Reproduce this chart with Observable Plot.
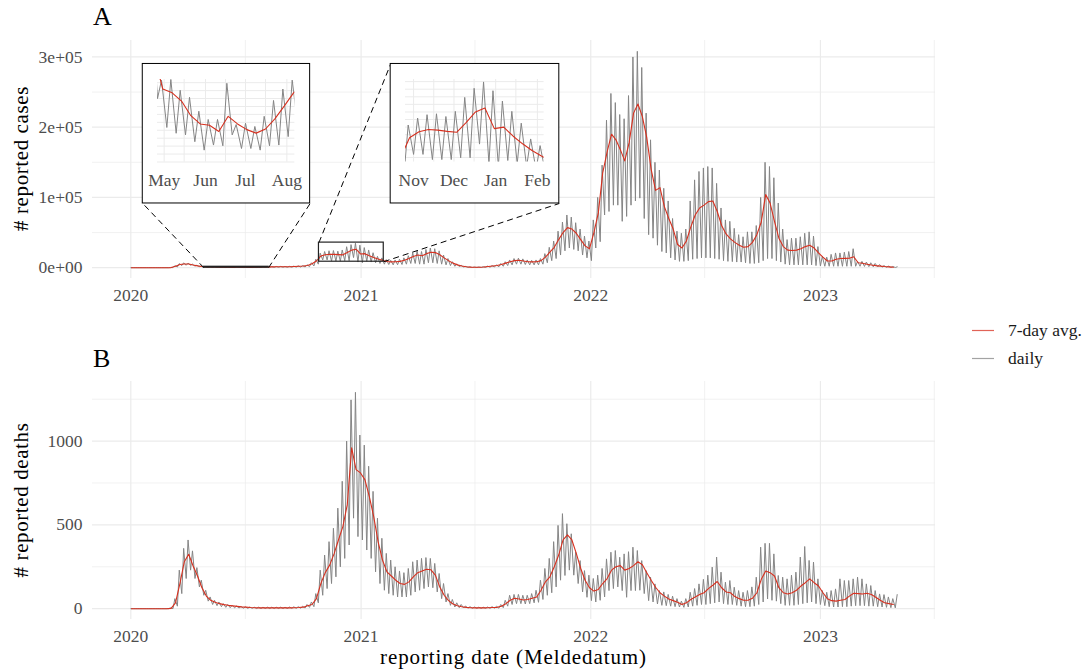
<!DOCTYPE html>
<html><head><meta charset="utf-8">
<script src="https://cdn.jsdelivr.net/npm/d3@7"></script>
<script src="https://cdn.jsdelivr.net/npm/@observablehq/plot@0.6"></script>
<style>
body{margin:0;background:#fff;}
#root{position:relative;width:1086px;height:672px;overflow:hidden;background:#fff;font-family:"Liberation Serif",serif;}
#root svg text{font-family:"Liberation Serif",serif;}
</style></head><body><div id="root"></div>
<script>
// ---------------- DATA (weekly readings from the picture) ----------------
// week i starts Monday 2019-12-30 + 7*i ; daily peak shown mid-week, trough on Sunday
const weekStart = "2019-12-30";
const lastDate = "2023-05-03";

// reported cases, thousands: 7-day average, weekly daily-peak, weekly daily-trough
const casesAvgK = [
0,0,0,0,0,0,0,0,0.01,0.15,
2.0,4.5,5.3,5.2,3.8,2.6,1.7,1.15,1.09,0.96,
0.73,0.60,0.58,0.48,0.72,0.60,0.51,0.455,0.52,0.68,
0.88,1.09,1.2,1.3,1.4,1.3,1.4,1.7,2.0,2.3,
3.2,5.5,9.5,16.5,18.5,19.2,19.0,18.6,18.3,21.5,
25,26.3,19.5,20,17,14.5,12.3,10.5,8.8,8.2,
8.5,9.0,10.5,13,16,18,17,20,22,21.5,
18.5,14,10,6.5,4,2.5,1.3,0.8,0.6,0.7,
1.0,1.6,2.3,3.0,4.5,6.5,8.5,10,10.5,9.5,
8.5,8.2,8.5,10,15,22,29,40,50,57,
55,49,40,31,27,50,78,135,165,190,
182,168,152,178,220,233,215,185,140,110,
114,87,70,55,33,28,38,58,75,85,
89,94,95,80,60,48,41,36,32,29,
30,36,47,65,104,92,66,42,30,25,
24.5,25,27,30,32,28,21,15,9.5,9.5,
12,13,13.3,13.5,15.5,7,6.2,5,3.8,2.9,
2.2,1.6,1.2,0.7,0.5];
const casesHiK = [
0,0,0,0,0,0,0,0,0.02,0.3,
3.0,5.8,6.8,6.5,5.0,3.5,2.3,1.29,1.30,1.13,
1.02,0.80,0.67,0.67,1.24,0.59,0.61,0.56,0.72,0.97,
1.15,1.29,1.6,1.7,1.8,1.7,1.9,2.2,2.6,3.0,
4.2,7.0,12,20.7,23,24.1,24.4,23.5,25.2,29.8,
32.8,34.9,32,28.6,25.2,21.3,16.1,13.9,11.5,10.5,
11,12,14,17,21,24,23,26,28,27,
24,18,13,8.5,5.5,3.3,1.8,1.1,0.9,1.0,
1.4,2.2,3.0,4.0,6,8.5,11,13,13.5,12.5,
11,10.5,11,13,20,29,38,52,65,75,
72,64,55,45,38,68,100,146,210,248,
235,218,212,245,300,308,285,220,182,150,
139,113,95,70,52,49,55,95,125,137,
142,144,142,120,85,68,66,56,47,44,
51,51,60,100,150,144,128,92,55,40,
42,42,44,49,51,45,30,16,15,19,
21,21,22,23,27,9,9,8,7,6,
4.5,3,2.2,1.7,1.2];
const casesLoK = [
0,0,0,0,0,0,0,0,0.005,0.1,
1.0,3.0,3.5,3.5,2.2,1.5,1.0,0.544,0.453,0.427,
0.32,0.187,0.267,0.256,0.427,0.213,0.213,0.187,0.256,0.267,
0.40,0.60,0.6,0.6,0.7,0.6,0.7,0.8,0.9,1.0,
1.5,2.5,5,11,11,9.3,9.3,9.3,9.9,9.9,
14.4,8,7,9,8,7,6,5,4.5,4.0,
4.2,4.5,5,6,6,5,5,7,7,6,
5,4,3,2,1.5,1.0,0.5,0.3,0.25,0.3,
0.4,0.7,1.0,1.3,2,3,4,5,5,4.5,
4,4,4,5,7,10,13,18,24,28,
26,24,18,14,10,28,37,75,80,89,
89,66,73,89,95,99,70,47,42,32,
23,21,14,11,9,9,10,12,13,14,
14,14,13,12,10,9,8.6,8,8,7,
6,6,7,10,13,13,10,8,5,4,
4,4,4,4,4,3,2.5,2,2,2,
2,2,2,2,2,2,1.8,1.5,1.2,1.0,
0.7,0.5,0.4,0.3,0.3];

// reported deaths: 7-day average, weekly daily-peak, weekly daily-trough
const deathsAvg7 = [
0,0,0,0,0,0,0,0,0,2,
35,150,280,325,255,195,125,75,50,38,
30,24,20,17,14,11,9,7,6,5,
5,5,5,5,5,5,5,6,7,9,
17,25,60,150,215,260,327,410,490,620,
960,830,810,770,670,550,400,290,220,195,
170,150,145,160,190,215,225,235,232,200,
130,80,48,28,18,12,8,6,5,5,
5,6,7,8,15,30,50,62,58,52,
55,62,70,110,160,190,250,320,410,440,
410,330,240,170,125,105,115,150,180,230,
250,257,230,240,257,280,262,215,170,128,
95,75,58,48,38,25,35,55,70,85,
95,120,140,162,125,100,95,72,60,50,
50,62,95,175,225,215,195,125,95,88,
95,110,135,155,178,155,135,95,60,48,
45,50,55,75,92,90,88,92,85,68,
50,35,30,25,22];
const deathsHi = [
0,0,0,0,0,0,0,0,0,5,
60,230,360,410,345,245,170,110,70,50,
40,30,25,20,16,13,11,10,9,9,
9,9,9,9,9,9,10,11,12,14,
25,40,90,230,320,400,480,600,760,1000,
1246,1291,1036,976,850,700,540,420,330,290,
250,225,215,240,280,290,300,305,300,270,
210,150,90,55,35,25,16,12,10,9,
9,10,12,14,25,50,80,85,85,80,
80,90,110,170,240,300,400,497,567,507,
447,337,287,227,200,180,200,240,297,337,
347,307,327,340,367,347,287,227,188,148,
108,100,85,75,60,45,60,98,120,148,
175,200,248,308,218,158,168,128,108,98,
108,130,188,367,390,390,327,198,188,178,
200,218,308,371,288,278,178,108,98,108,
118,178,168,168,178,188,178,148,138,108,
88,84,70,60,84];
const deathsLo = [
0,0,0,0,0,0,0,0,0,0,
15,90,180,230,180,130,80,45,25,18,
12,8,6,5,4,3,2,2,1,1,
1,1,1,1,1,1,2,2,3,4,
8,12,35,80,120,150,190,250,300,380,
540,430,410,350,300,220,150,110,90,80,
70,70,70,80,100,110,120,130,125,100,
60,40,20,10,6,4,3,2,2,2,
2,2,3,3,6,15,25,30,30,28,
30,35,38,55,80,95,130,170,198,230,
200,150,100,68,48,40,50,70,108,120,
130,108,68,108,108,110,90,48,40,28,
20,18,15,12,10,8,10,15,20,25,
25,30,35,40,30,25,25,20,15,12,
12,15,25,40,58,50,45,30,20,20,
20,25,30,35,40,30,25,18,12,10,
10,12,12,15,18,18,18,15,15,12,
10,8,6,5,5];

// axis ticks and labels
const xTickDates = ["2020-01-01","2021-01-01","2022-01-01","2023-01-01"];
const xTickLabels = ["2020","2021","2022","2023"];
const xMinorDates = ["2020-07-01","2021-07-01","2022-07-01","2023-07-01"];
const casesTicks = [0,100000,200000,300000];
const casesTickLabels = ["0e+00","1e+05","2e+05","3e+05"];
const casesMinor = [50000,150000,250000];
const deathsTicks = [0,500,1000];
const deathsTickLabels = ["0","500","1000"];
const deathsMinor = [250,750,1250];

// zoomed windows (data ranges) and their month labels
const zoom1 = {from:"2020-04-26", to:"2020-08-07", yMin:0, yMax:1300, gridStep:125,
  months:["2020-05-01","2020-06-01","2020-07-01","2020-08-01"], monthLabels:["May","Jun","Jul","Aug"]};
const zoom2 = {from:"2020-10-26", to:"2021-02-06", yMin:8500, yMax:35700, gridStep:2500,
  months:["2020-11-01","2020-12-01","2021-01-01","2021-02-01"], monthLabels:["Nov","Dec","Jan","Feb"]};

// ---------------- LAYOUT / STYLE ----------------
const W = 1086, H = 672;
const FONT = "Liberation Serif";
const RED = "#d7301f", GREY = "#858585", GRID = "#ebebeb", TICK = "#4d4d4d";
// where the inset panels sit, in panel-A data coordinates
const insetPlace1 = {x1:"2020-01-20", x2:"2020-10-12", y1:91400, y2:290000};
const insetPlace2 = {x1:"2021-02-17", x2:"2021-11-12", y1:91400, y2:290000};

const root = document.getElementById("root");
const D = s => new Date(s);
const mondays = casesAvgK.map((_, i) => d3.utcDay.offset(D(weekStart), 7 * i));
const endDate = D(lastDate);

function dailyOf(hi, lo, k) {
  const out = [];
  hi.forEach((v, i) => {
    out.push({date: d3.utcDay.offset(mondays[i], 2), value: v * k});
    out.push({date: d3.utcDay.offset(mondays[i], 6), value: lo[i] * k});
  });
  return out.filter(d => d.date <= endDate);
}
function avgOf(a, k) {
  return a.map((v, i) => ({date: d3.utcDay.offset(mondays[i], 3), value: v * k})).filter(d => d.date <= endDate);
}
const casesDaily = dailyOf(casesHiK, casesLoK, 1000);
const casesAvg = avgOf(casesAvgK, 1000);
const deathsDaily = dailyOf(deathsHi, deathsLo, 1);
const deathsAvg = avgOf(deathsAvg7, 1);

const [d0, d1] = d3.extent(casesDaily, d => d.date);
const span = d1 - d0;
const xDomain = [new Date(+d0 - 0.05 * span), new Date(+d1 + 0.05 * span)];
const xTicks = xTickDates.map(D);
const xMinor = xMinorDates.map(D);
const txt = {fontFamily: FONT, fontSize: 17.5, fill: TICK};

function panel({daily, avg, yTicks, yLabels, yMinor, marginTop, extra = []}) {
  const yMax = d3.max(daily, d => d.value);
  return Plot.plot({
    width: W, height: marginTop + 238 + 30,
    marginLeft: 92, marginRight: 151, marginTop, marginBottom: 30,
    x: {type: "utc", domain: xDomain, axis: null},
    y: {domain: [-0.05 * yMax, 1.05 * yMax], axis: null},
    style: {fontFamily: FONT, fontSize: "17.5px", background: "transparent", overflow: "visible"},
    marks: [
      Plot.gridX(xMinor, {stroke: GRID, strokeOpacity: 1, strokeWidth: 0.7}),
      Plot.gridY(yMinor, {stroke: GRID, strokeOpacity: 1, strokeWidth: 0.7}),
      Plot.gridX(xTicks, {stroke: GRID, strokeOpacity: 1, strokeWidth: 1.2}),
      Plot.gridY(yTicks, {stroke: GRID, strokeOpacity: 1, strokeWidth: 1.2}),
      Plot.line(daily, {x: "date", y: "value", stroke: GREY, strokeWidth: 1}),
      Plot.line(avg, {x: "date", y: "value", stroke: RED, strokeWidth: 1.1}),
      Plot.axisX(xTicks, {tickSize: 0, tickPadding: 10, label: null, ...txt,
        tickFormat: d => xTickLabels[xTicks.findIndex(t => +t === +d)]}),
      Plot.axisY(yTicks, {tickSize: 0, tickPadding: 10, label: null, ...txt,
        tickFormat: d => yLabels[yTicks.indexOf(d)]}),
      ...extra
    ]
  });
}

function place(el, left, top) {
  el.style.position = "absolute"; el.style.left = left + "px"; el.style.top = top + "px";
  root.appendChild(el); return el;
}

// annotation marks for panel A: zoom boxes, connectors, inset frames
const zb = z => ({x1: D(z.from), x2: D(z.to), y1: z.yMin, y2: z.yMax});
const ip = p => ({x1: D(p.x1), x2: D(p.x2), y1: p.y1, y2: p.y2});
const b1 = zb(zoom1), b2 = zb(zoom2), f1 = ip(insetPlace1), f2 = ip(insetPlace2);
const connectors = [
  {x1: b1.x1, y1: b1.y1, x2: f1.x1, y2: f1.y1},
  {x1: b1.x2, y1: b1.y1, x2: f1.x2, y2: f1.y1},
  {x1: b2.x1, y1: b2.y2, x2: f2.x1, y2: f2.y2},
  {x1: b2.x2, y1: b2.y1, x2: f2.x2, y2: f2.y1}
];
const extraA = [
  Plot.link(connectors, {x1: "x1", y1: "y1", x2: "x2", y2: "y2", stroke: "#000", strokeWidth: 1, strokeDasharray: "6,4"}),
  Plot.rect([b1, b2], {x1: "x1", x2: "x2", y1: "y1", y2: "y2", fill: "none", stroke: "#222", strokeWidth: 1.2}),
  Plot.rect([f1, f2], {x1: "x1", x2: "x2", y1: "y1", y2: "y2", fill: "#fff", stroke: "#000", strokeWidth: 1})
];

const chartA = panel({daily: casesDaily, avg: casesAvg, yTicks: casesTicks, yLabels: casesTickLabels,
  yMinor: casesMinor, marginTop: 40, extra: extraA});
place(chartA, 0, 0);
const chartB = panel({daily: deathsDaily, avg: deathsAvg, yTicks: deathsTicks, yLabels: deathsTickLabels,
  yMinor: deathsMinor, marginTop: 41});
place(chartB, 0, 340);

// insets, positioned through panel A's scales
const sx = chartA.scale("x"), sy = chartA.scale("y");
function inset(z, f) {
  const left = sx.apply(f.x1), right = sx.apply(f.x2);
  const top = sy.apply(f.y2), bottom = sy.apply(f.y1);
  const from = D(z.from), to = D(z.to);
  const lo = d3.utcDay.offset(from, -8), hi = d3.utcDay.offset(to, 8);
  const inWin = d => d.date >= lo && d.date <= hi;
  const months = d3.utcMonth.range(d3.utcMonth.floor(from), to);
  const halfs = months.flatMap(m => [m, d3.utcDay.offset(m, 15)]).filter(d => d >= from && d <= to);
  const mt = z.months.map(D);
  const gy = d3.range(Math.ceil(z.yMin / z.gridStep) * z.gridStep, z.yMax, z.gridStep);
  const c = Plot.plot({
    width: right - left, height: bottom - top,
    marginLeft: 15, marginRight: 15, marginTop: 16, marginBottom: 41,
    x: {type: "utc", domain: [from, to], axis: null},
    y: {domain: [z.yMin, z.yMax], axis: null},
    style: {fontFamily: FONT, fontSize: "17.5px", background: "transparent", overflow: "visible"},
    marks: [
      Plot.gridY(gy, {stroke: GRID, strokeOpacity: 1, strokeWidth: 1}),
      Plot.gridX(halfs, {stroke: GRID, strokeOpacity: 1, strokeWidth: 1}),
      Plot.line(casesDaily.filter(inWin), {x: "date", y: "value", stroke: GREY, strokeWidth: 1, clip: true}),
      Plot.line(casesAvg.filter(inWin), {x: "date", y: "value", stroke: RED, strokeWidth: 1.1, clip: true}),
      Plot.axisX(mt, {tickSize: 0, tickPadding: 12, label: null, ...txt,
        tickFormat: d => z.monthLabels[mt.findIndex(t => +t === +d)]})
    ]
  });
  place(c, left, top);
}
inset(zoom1, f1);
inset(zoom2, f2);

// titles, axis titles, legend
const ov = d3.create("svg").attr("width", W).attr("height", H)
  .style("position", "absolute").style("left", 0).style("top", 0)
  .style("pointer-events", "none");
const T = (sel) => sel.attr("font-family", FONT).attr("fill", "#000");
T(ov.append("text")).attr("x", 93).attr("y", 25).attr("font-size", 26).text("A");
T(ov.append("text")).attr("x", 93).attr("y", 367).attr("font-size", 26).text("B");
T(ov.append("text")).attr("transform", "translate(28,158.5) rotate(-90)").attr("text-anchor", "middle")
  .attr("font-size", 21).attr("letter-spacing", "0.6px").text("# reported cases");
T(ov.append("text")).attr("transform", "translate(28,500) rotate(-90)").attr("text-anchor", "middle")
  .attr("font-size", 21).attr("letter-spacing", "0.6px").text("# reported deaths");
T(ov.append("text")).attr("x", 513.5).attr("y", 664).attr("text-anchor", "middle")
  .attr("font-size", 21).attr("letter-spacing", "0.9px").text("reporting date (Meldedatum)");
const legendItems = [{label: "7-day avg.", color: RED}, {label: "daily", color: GREY}];
legendItems.forEach((it, i) => {
  const y = 330.5 + i * 28;
  ov.append("line").attr("x1", 972).attr("x2", 994).attr("y1", y).attr("y2", y)
    .attr("stroke", it.color).attr("stroke-width", 1.2).attr("opacity", 0.75);
  T(ov.append("text")).attr("x", 1008).attr("y", y + 5).attr("font-size", 17.5).attr("fill", "#1a1a1a").text(it.label);
});
root.appendChild(ov.node());
</script>
</body></html>
